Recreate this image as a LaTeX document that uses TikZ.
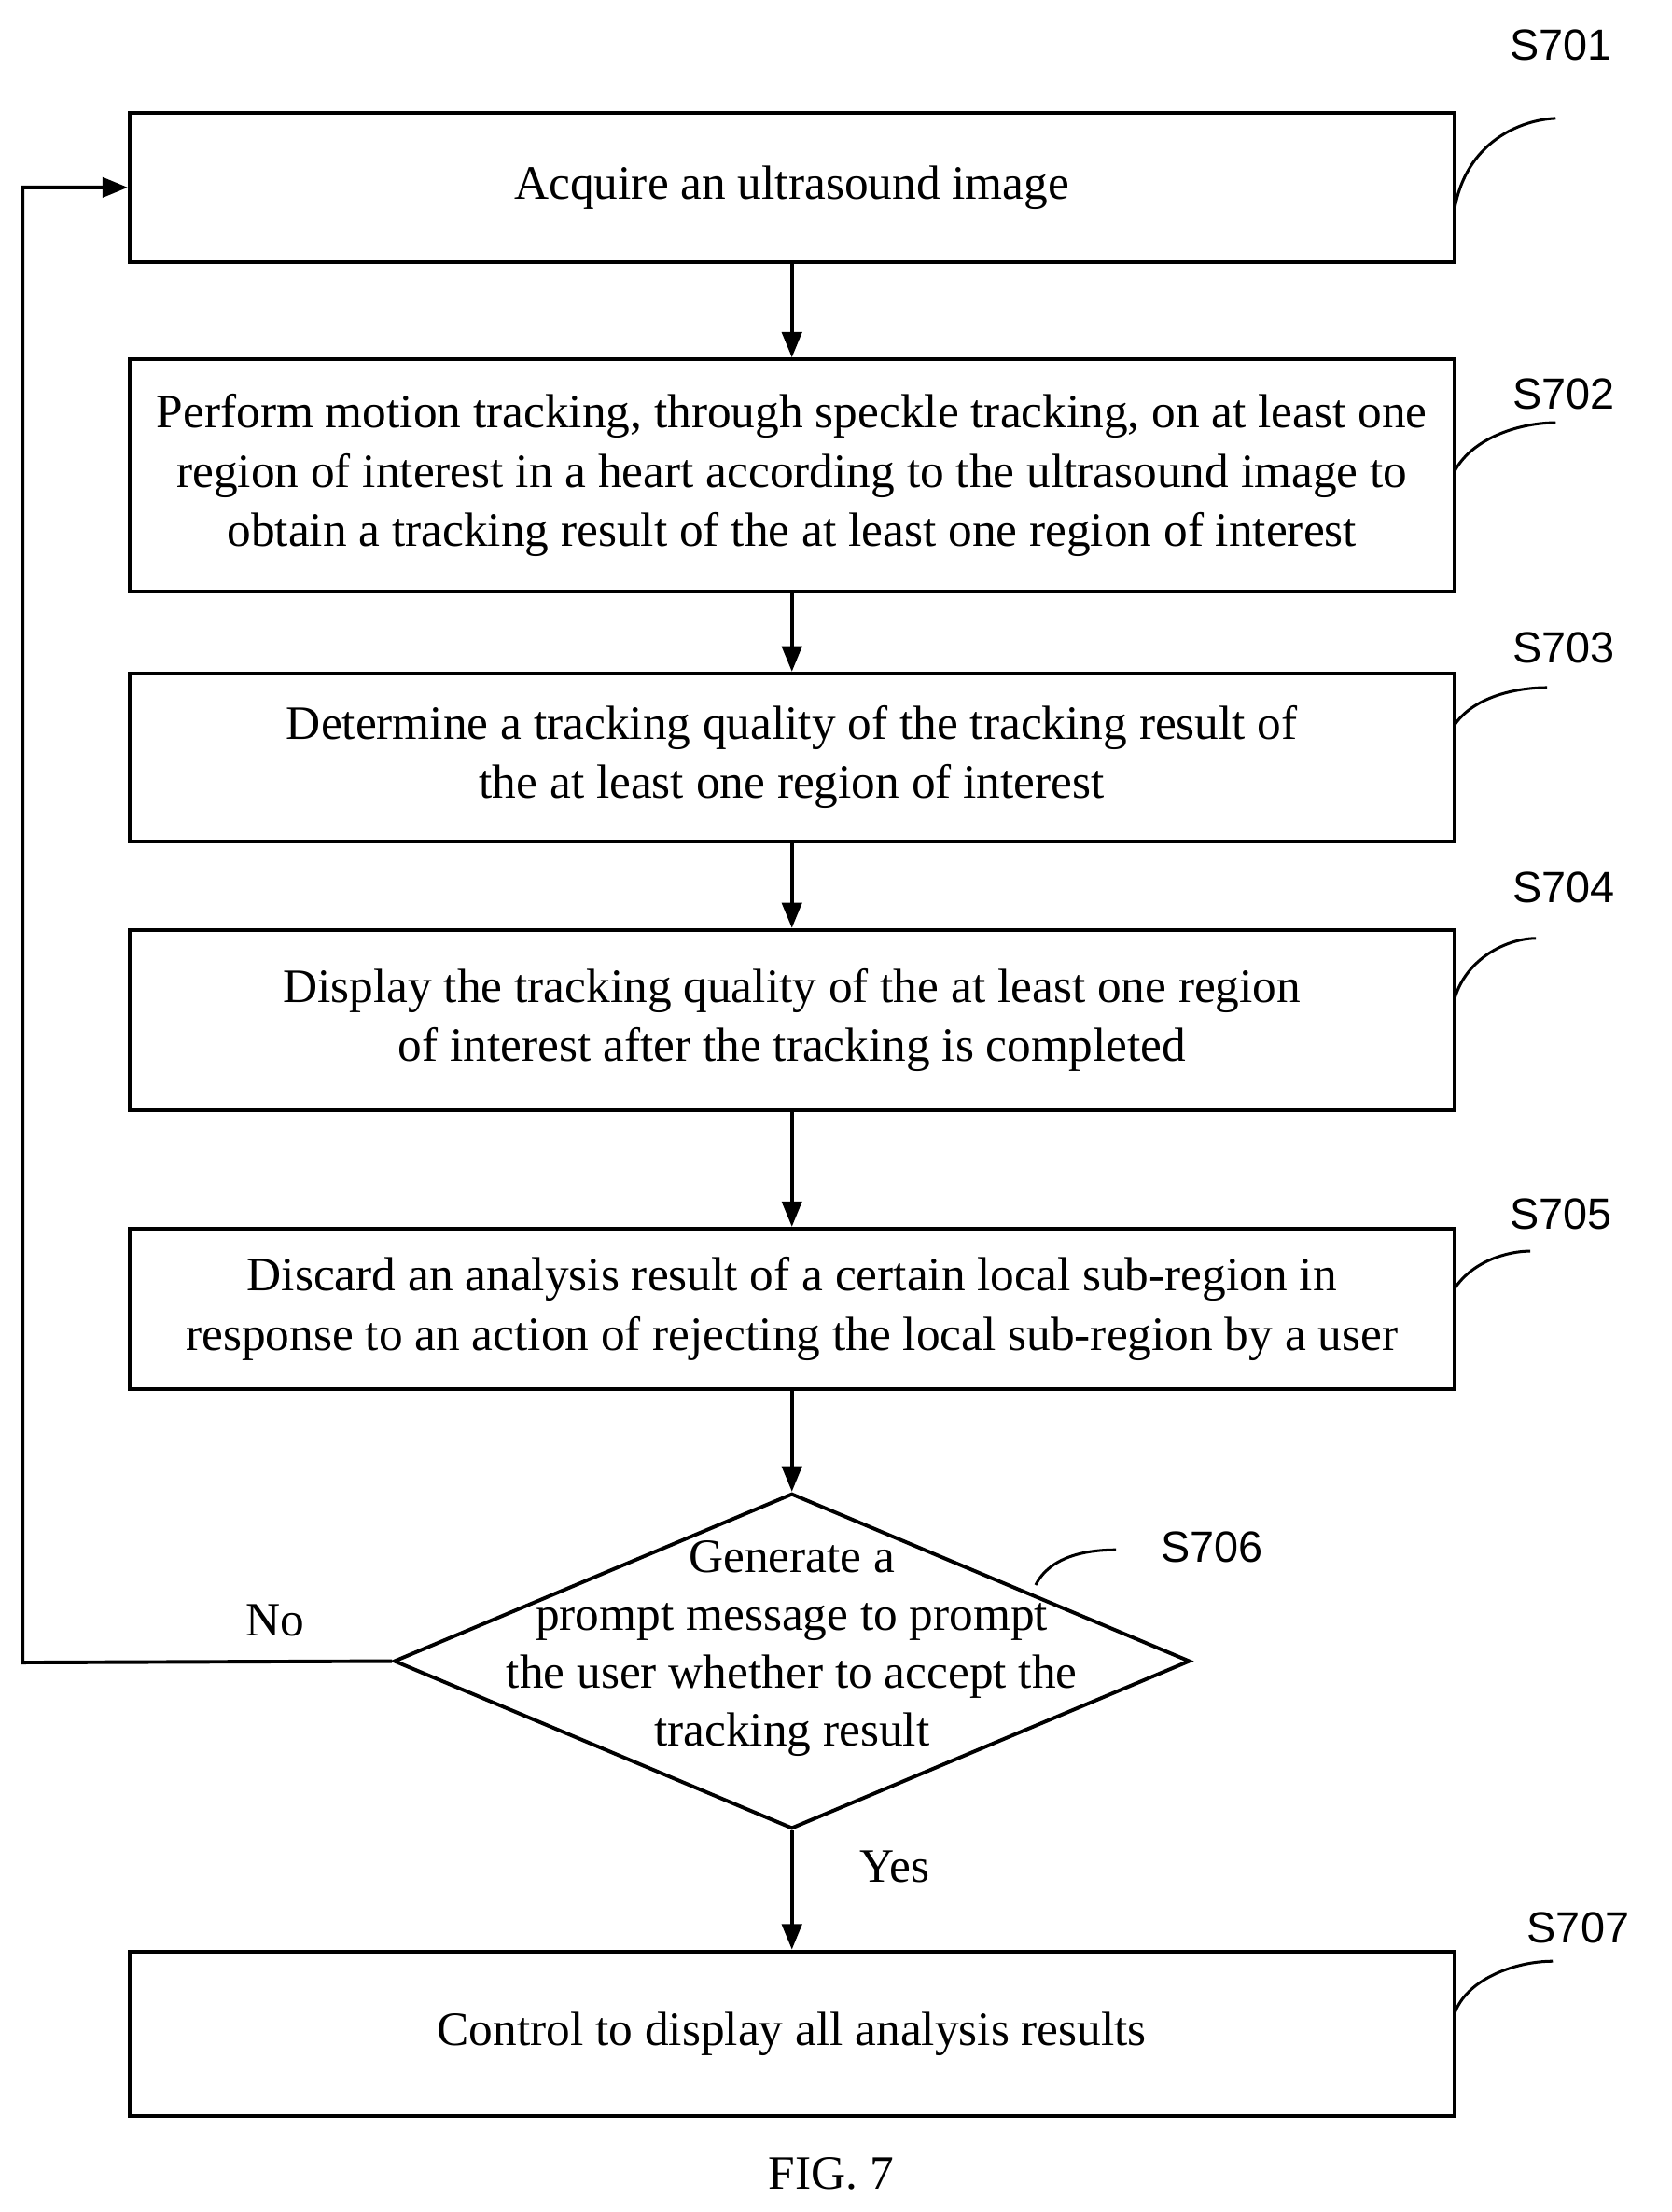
\documentclass[tikz,border=0pt]{standalone}
\usepackage{fontspec}
\setmainfont{Liberation Serif}
\newfontfamily\labfont{Liberation Sans}
\usetikzlibrary{arrows.meta,shapes.geometric}
\begin{document}
\begin{tikzpicture}[x=0.5pt,y=-0.5pt,
  box/.style={draw,line width=1.3pt,minimum width=470pt,inner sep=0pt,align=center,font=\fontsize{17}{21}\selectfont},
  lab/.style={font=\labfont\fontsize{15.5}{18}\selectfont},
  arr/.style={line width=1.3pt,-{Triangle[length=9pt,width=7pt]}},
  cur/.style={line width=1pt}]
\useasboundingbox (0,0) rectangle (1186,1570);
\node[box,minimum height=53pt] (s1) at (562,133) {Acquire an ultrasound image};
\node[box,minimum height=82.5pt] (s2) at (562,337.5) {Perform motion tracking, through speckle tracking, on at least one\\region of interest in a heart according to the ultrasound image to\\obtain a tracking result of the at least one region of interest};
\node[box,minimum height=59.5pt] (s3) at (562,537.5) {Determine a tracking quality of the tracking result of\\the at least one region of interest};
\node[box,minimum height=64pt] (s4) at (562,724) {Display the tracking quality of the at least one region\\of interest after the tracking is completed};
\node[box,minimum height=57pt] (s5) at (562,929) {Discard an analysis result of a certain local sub-region in\\response to an action of rejecting the local sub-region by a user};
\node[draw,line width=1.3pt,diamond,aspect=2.37,inner sep=0pt,minimum width=282.5pt,minimum height=119pt] (s6) at (562,1179) {};
\node[align=center,font=\fontsize{17}{20.5}\selectfont] (t6) at (562,1170) {Generate a\\prompt message to prompt\\the user whether to accept the\\tracking result};
\node[box,minimum height=58.5pt] (s7) at (562,1443.5) {Control to display all analysis results};
\node[font=\fontsize{17}{20}\selectfont] (fig) at (590,1543) {FIG. 7};
\draw[arr] (s1) -- (s2);
\draw[arr] (s2) -- (s3);
\draw[arr] (s3) -- (s4);
\draw[arr] (s4) -- (s5);
\draw[arr] (s5) -- (s6);
\draw[arr] (s6) -- (s7);
\coordinate (c1) at (16,1180);
\coordinate (c2) at (16,133);
\draw[arr] (s6.west) -- (c1) -- (c2) -- (s1.west);
\node[font=\fontsize{17}{20}\selectfont] (no) at (195,1150) {No};
\node[font=\fontsize{17}{20}\selectfont] (yes) at (635,1325) {Yes};
\node[lab] (l1) at (1108,32) {S701};
\node[lab] (l2) at (1110,280) {S702};
\node[lab] (l3) at (1110,460) {S703};
\node[lab] (l4) at (1110,630) {S704};
\node[lab] (l5) at (1108,862) {S705};
\node[lab] (l6) at (860,1098) {S706};
\node[lab] (l7) at (1120,1368) {S707};
\coordinate (a1) at (1104,84); \draw[cur] (1032,150) .. controls (1040,100) and (1080,85) .. (a1);
\coordinate (a2) at (1104,300); \draw[cur] (1032,335) .. controls (1045,310) and (1080,300) .. (a2);
\coordinate (a3) at (1098,488); \draw[cur] (1032,515) .. controls (1045,495) and (1075,488) .. (a3);
\coordinate (a4) at (1090,666); \draw[cur] (1032,710) .. controls (1040,680) and (1070,666) .. (a4);
\coordinate (a5) at (1086,888); \draw[cur] (1032,915) .. controls (1045,895) and (1070,888) .. (a5);
\coordinate (a6) at (792,1100); \draw[cur] (735,1125) .. controls (745,1105) and (770,1100) .. (a6);
\coordinate (a7) at (1102,1392); \draw[cur] (1032,1430) .. controls (1040,1405) and (1075,1392) .. (a7);
\end{tikzpicture}
\end{document}
